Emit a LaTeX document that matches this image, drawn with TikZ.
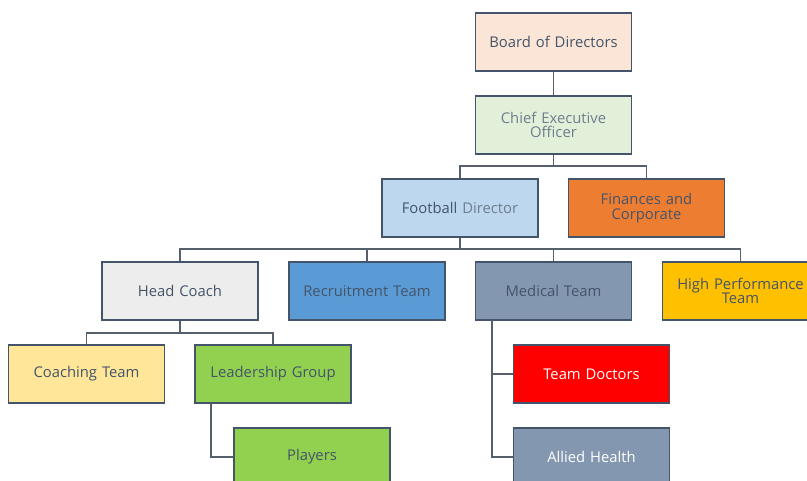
\documentclass[tikz,border=0pt]{standalone}
\usepackage{fontspec}
\setmainfont{Open Sans}
\definecolor{txtdark}{HTML}{44546A}
\definecolor{txtlight}{HTML}{6E7D8F}
\definecolor{linegray}{HTML}{56606C}
\definecolor{peach}{HTML}{FBE5D6}
\definecolor{mint}{HTML}{E2F0D9}
\definecolor{skyblue}{HTML}{BDD7EE}
\definecolor{orangeacc}{HTML}{ED7D31}
\definecolor{lightgray}{HTML}{EDEDED}
\definecolor{midblue}{HTML}{5B9BD5}
\definecolor{slateblue}{HTML}{8497B0}
\definecolor{gold}{HTML}{FFC000}
\definecolor{paleyellow}{HTML}{FFE699}
\definecolor{leafgreen}{HTML}{92D050}
\begin{document}
\begin{tikzpicture}[x=1pt, y=-1pt,
    unit/.style={draw=txtdark, line width=1.3pt, minimum width=155pt, minimum height=58pt,
        inner sep=2pt, align=center, text width=152pt, text=txtdark,
        font=\fontsize{14.8}{14.5}\selectfont},
    link/.style={draw=linegray, line width=1.1pt}]
    \useasboundingbox (0,0) rectangle (807,480);

    % top of the chart
    \node[unit, fill=peach] (board) at (553.5, 42) {Board of Directors};
    \node[unit, fill=mint, text=txtlight] (ceo) at (553.5, 125) {Chief Executive\\Officer};
    \node[unit, fill=skyblue] (fd) at (460, 208) {Football \textcolor{txtlight}{Director}};
    \node[unit, fill=orangeacc] (fin) at (646.5, 208) {Finances and\\Corporate};

    % football department
    \node[unit, fill=lightgray] (hc) at (180, 291) {Head Coach};
    \node[unit, fill=midblue] (rec) at (367, 291) {Recruitment Team};
    \node[unit, fill=slateblue] (med) at (553.5, 291) {Medical Team};
    \node[unit, fill=gold] (hp) at (740.5, 291) {High Performance\\Team};

    % lower levels
    \node[unit, fill=paleyellow] (ct) at (86.5, 374) {Coaching Team};
    \node[unit, fill=leafgreen] (lg) at (273, 374) {Leadership Group};
    \node[unit, fill=leafgreen] (pl) at (312, 457) {Players};
    \node[unit, fill=red, text=white] (td) at (591.5, 374) {Team Doctors};
    \node[unit, fill=slateblue, text=white] (ah) at (591.5, 457) {Allied Health};

    \coordinate (bus1) at (553.5, 166);
    \coordinate (bus2) at (460, 249);
    \coordinate (bus3) at (180, 333);
    \coordinate (lgx) at (211, 403);
    \coordinate (medx) at (492, 320);

    \draw[link] (board) -- (ceo);
    \draw[link] (ceo.south) -- (bus1) -| (fd.north);
    \draw[link] (bus1) -| (fin.north);
    \draw[link] (fd.south) -- (bus2);
    \foreach \n in {hc,rec,med,hp}{
        \draw[link] (bus2) -| (\n.north);
    }
    \draw[link] (hc.south) -- (bus3) -| (ct.north);
    \draw[link] (bus3) -| (lg.north);
    \draw[link] (lgx) |- (pl.west);
    \draw[link] (medx) |- (td.west);
    \draw[link] (medx) |- (ah.west);
\end{tikzpicture}
\end{document}
